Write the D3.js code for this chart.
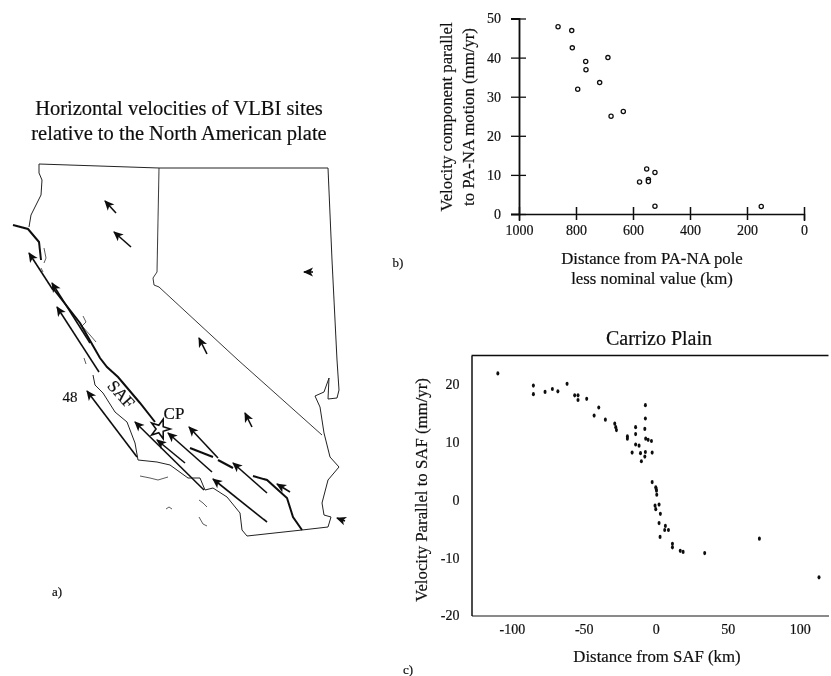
<!DOCTYPE html>
<html>
<head>
<meta charset="utf-8">
<script src="https://cdn.jsdelivr.net/npm/d3@7"></script>
<style>
    html, body { margin: 0; padding: 0; background: #fff; }
    svg { display: block; }
    text { font-family: "Liberation Serif", serif; fill: #111; stroke: #111; stroke-width: 0.2; }
    .domain, .tick line { stroke: #111; }
</style>
</head>
<body>
<svg id="chart" width="831" height="676"></svg>
<script>
// panel b: distance (km), velocity (mm/yr)
const poleDistance = [863, 815, 813, 766, 765, 688, 794, 717, 634, 677, 552, 523, 577, 546, 546, 523, 150];
const poleVelocity = [47.9, 46.9, 42.5, 39.0, 36.9, 40.0, 31.9, 33.6, 26.2, 25.0, 11.5, 10.6, 8.2, 8.8, 8.3, 2.0, 1.9];
const poleTicksX = [1000, 800, 600, 400, 200, 0];
const poleTicksY = [0, 10, 20, 30, 40, 50];

// panel c: distance from fault (km), velocity parallel (mm/yr)
const safDistance = [-109.7, -85, -85, -76.9, -71.8, -68, -61.6, -56.3, -54, -54, -48, -39.6, -42.8, -35, -28.5, -27.8, -27.3,
    -19.7, -19.7, -16.4, -14, -14, -14, -11.6, -10.6, -10, -7.2, -7.2, -7.6, -7, -5.3, -3, -7.2, -7.6, -2.5,
    -2.5, 0, 0.3, 0.5, 0.7, -0.5, 2.3, 0, 3.2, 2.3, 6.7, 6.2, 8.8, 3, 11.6, 11.6, 17, 19, 34, 72, 113.4];
const safVelocity = [21.9, 19.8, 18.3, 18.7, 19.2, 18.8, 20.1, 18.1, 18.1, 17.3, 17.5, 16, 14.6, 13.9, 13.2, 12.6, 12.1,
    11, 10.6, 8.2, 12.6, 11.4, 9.6, 9.4, 8.1, 6.7, 16.4, 14.1, 12.3, 10.6, 10.4, 10.2, 8.3, 7.5, 8.2,
    3.1, 2.2, 1.9, 1.6, 0.9, -1, -0.8, -1.6, -2.4, -4, -4.5, -5.2, -5.2, -6.4, -7.6, -8.2, -8.8, -9, -9.2, -6.7, -13.4];
const safTicksX = [-100, -50, 0, 50, 100];
const safTicksY = [-20, -10, 0, 10, 20];

// map outlines, in map units
const stateOutline = [[29, 227], [31, 215], [41, 195], [42, 180], [39, 173], [39, 164], [159, 168], [328, 168], [332, 260], [337, 360],
    [339, 390], [337, 398], [328, 399], [329, 378], [324, 392], [315, 396], [320, 407], [324, 433], [330, 457], [339, 467], [328, 480],
    [322, 503], [324, 515], [331, 517], [328, 527], [302, 530], [247, 536], [242, 530], [240, 513], [227, 497], [213, 488], [205, 490],
    [200, 478], [188, 478], [170, 465], [157, 462], [138, 460], [135, 443], [127, 422], [115, 412], [103, 393], [95, 385], [93, 375]];
const nevadaWest = [[159, 168], [157, 272], [153, 278], [154, 285], [159, 287], [238, 360], [322, 435]];
const coastPieces = [
    [[44, 248], [46, 258], [44, 263]],
    [[41, 268], [43, 272]],
    [[83, 316], [86, 322], [82, 326], [90, 335], [96, 342]],
    [[84, 358], [86, 364]],
    [[140, 476], [150, 478], [158, 480], [168, 477]],
    [[166, 509], [169, 507], [172, 509]],
    [[199, 500], [203, 503], [207, 507]],
    [[199, 517], [203, 524], [207, 526]]
];
const faultPieces = [
    [[13, 225], [28, 229], [39, 242], [41, 260]],
    [[52, 287], [80, 323], [100, 358], [107, 367], [118, 377], [140, 403], [155, 422]],
    [[190, 448], [213, 457]],
    [[218, 460], [233, 468]],
    [[253, 476], [267, 480], [287, 498], [293, 517], [302, 530]]
];
// tail x, tail y, head x, head y
const siteArrows = [[116, 213, 105, 201], [131, 247, 114, 232], [313, 272, 304, 272], [207, 354, 199, 338],
    [53, 290, 29, 253], [90, 343, 52, 283], [99, 372, 57, 307], [137, 457, 87, 391], [204, 490, 135, 422],
    [185, 463, 157, 440], [212, 472, 168, 433], [218, 458, 189, 427], [267, 493, 233, 463], [267, 522, 213, 479],
    [290, 492, 277, 484], [252, 427, 245, 413], [345, 521, 337, 518]];
const starSite = [160, 429];

const svg = d3.select("#chart");
const defs = svg.append("defs");
defs.append("filter").attr("id", "scan")
    .append("feGaussianBlur").attr("stdDeviation", 0.45);
defs.append("marker").attr("id", "head")
    .attr("viewBox", "0 -5 10 10").attr("refX", 9).attr("refY", 0)
    .attr("markerUnits", "userSpaceOnUse").attr("markerWidth", 11).attr("markerHeight", 10)
    .attr("orient", "auto")
    .append("path").attr("d", "M0,-4.5L10,0L0,4.5L2.5,0Z").attr("fill", "#111");

const root = svg.append("g").attr("filter", "url(#scan)");

// ---- map (a)
const mapX = d3.scaleLinear().domain([0, 360]).range([0, 360]);
const mapY = d3.scaleLinear().domain([150, 550]).range([150, 550]);
const mapLine = d3.line().x(d => mapX(d[0])).y(d => mapY(d[1]));

const map = root.append("g").attr("fill", "none");
map.append("path").attr("d", mapLine(stateOutline)).attr("stroke", "#222").attr("stroke-width", 1);
map.append("path").attr("d", mapLine(nevadaWest)).attr("stroke", "#222").attr("stroke-width", 0.9);
map.selectAll(".coast").data(coastPieces).enter().append("path")
    .attr("class", "coast").attr("d", mapLine).attr("stroke", "#333").attr("stroke-width", 0.8);
map.selectAll(".fault").data(faultPieces).enter().append("path")
    .attr("class", "fault").attr("d", mapLine).attr("stroke", "#111").attr("stroke-width", 2);
map.selectAll(".arrow").data(siteArrows).enter().append("line")
    .attr("class", "arrow")
    .attr("x1", d => mapX(d[0])).attr("y1", d => mapY(d[1]))
    .attr("x2", d => mapX(d[2])).attr("y2", d => mapY(d[3]))
    .attr("stroke", "#111").attr("stroke-width", 1.6)
    .attr("marker-end", "url(#head)");
map.append("path")
    .attr("d", d3.symbol().type(d3.symbolStar).size(120))
    .attr("transform", `translate(${mapX(starSite[0])},${mapY(starSite[1])}) rotate(18)`)
    .attr("fill", "#fff").attr("stroke", "#111").attr("stroke-width", 1.6);

function label(parent, txt, x, y, size, anchor) {
    return parent.append("text").attr("x", x).attr("y", y)
        .attr("font-size", size).attr("text-anchor", anchor || "middle").text(txt);
}

label(root, "Horizontal velocities of VLBI sites", 179, 115, 20.5);
label(root, "relative to the North American plate", 179, 140, 20.5);
label(root, "48", 70, 402, 15);
label(root, "CP", 174, 419, 17);
label(root, "SAF", 0, 0, 17).attr("transform", "translate(117,398) rotate(48)");
label(root, "a)", 57, 596, 13);
label(root, "b)", 398, 267, 13);
label(root, "c)", 408, 674, 13);

// ---- scatter (b)
const bX = d3.scaleLinear().domain([1000, 0]).range([519, 804]);
const bY = d3.scaleLinear().domain([0, 50]).range([214, 18.5]);

const bBottom = root.append("g").attr("transform", `translate(0,${bY(0)})`)
    .call(d3.axisBottom(bX).tickValues(poleTicksX).tickFormat(d3.format("d")).tickSizeOuter(0).tickSize(7));
bBottom.selectAll(".tick line").attr("y1", -7).attr("y2", 6).attr("stroke-width", 1.5);
bBottom.selectAll(".tick text").attr("y", 11).attr("font-size", 14);
bBottom.select(".domain").attr("stroke-width", 1.5);

const bLeft = root.append("g").attr("transform", `translate(${bX(1000)},0)`)
    .call(d3.axisLeft(bY).tickValues(poleTicksY).tickSizeOuter(0).tickSize(8));
bLeft.selectAll(".tick line").attr("x1", -8).attr("x2", 7).attr("stroke-width", 1.3);
bLeft.selectAll(".tick text").attr("x", -18).attr("font-size", 14);
bLeft.select(".domain").attr("stroke-width", 1.8);

root.append("g").selectAll("circle").data(poleDistance).enter().append("circle")
    .attr("cx", d => bX(d))
    .attr("cy", (d, i) => bY(poleVelocity[i]))
    .attr("r", 2.1).attr("fill", "#fff").attr("stroke", "#111").attr("stroke-width", 1.3);

label(root, "Velocity component parallel", 0, 0, 16.8).attr("transform", "translate(452,117) rotate(-90)");
label(root, "to PA-NA motion (mm/yr)", 0, 0, 16.8).attr("transform", "translate(474,117) rotate(-90)");
label(root, "Distance from PA-NA pole", 652, 264, 16.8);
label(root, "less nominal value (km)", 652, 284, 16.8);

// ---- scatter (c)
const cX = d3.scaleLinear().domain([-128, 120]).range([471.5, 828.5]);
const cY = d3.scaleLinear().domain([-20, 25]).range([615.5, 355.5]);

const cBottom = root.append("g").attr("transform", `translate(0,${cY(-20)})`)
    .call(d3.axisBottom(cX).tickValues(safTicksX).tickFormat(d3.format("d").bind(null)).tickSize(0));
cBottom.selectAll(".tick text").attr("y", 9).attr("font-size", 14).text(d => String(d));
cBottom.select(".domain").attr("stroke-width", 1.2);

const cLeft = root.append("g").attr("transform", `translate(${cX(-128)},0)`)
    .call(d3.axisLeft(cY).tickValues(safTicksY).tickSize(0));
cLeft.selectAll(".tick text").attr("x", -12).attr("font-size", 14).text(d => String(d));
cLeft.select(".domain").attr("stroke-width", 1.5);

root.append("line")
    .attr("x1", cX(-128)).attr("x2", cX(120))
    .attr("y1", cY(25)).attr("y2", cY(25))
    .attr("stroke", "#111").attr("stroke-width", 1.5);

root.append("g").selectAll("ellipse").data(safDistance).enter().append("ellipse")
    .attr("cx", d => cX(d))
    .attr("cy", (d, i) => cY(safVelocity[i]))
    .attr("rx", 1.5).attr("ry", 2.1).attr("fill", "#111");

label(root, "Carrizo Plain", 659, 345, 20);
label(root, "Velocity Parallel to SAF (mm/yr)", 0, 0, 16.8).attr("transform", "translate(427,490) rotate(-90)");
label(root, "Distance from SAF (km)", 657, 662, 16.8);
</script>
</body>
</html>
